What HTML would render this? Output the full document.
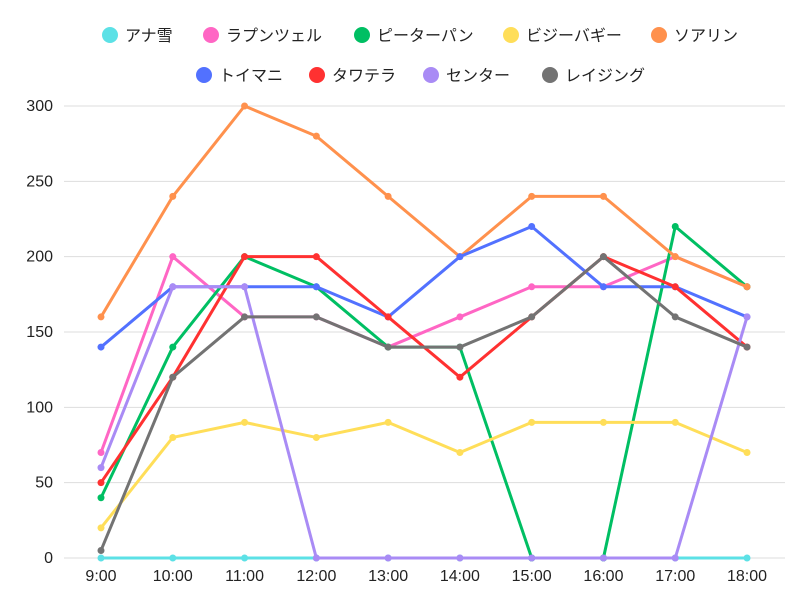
<!DOCTYPE html>
<html><head><meta charset="utf-8"><style>
html,body{margin:0;padding:0;background:#fff}
svg text{font-family:"Liberation Sans","Noto Sans CJK JP",sans-serif;fill:#222}
</style></head><body>
<svg id="c" width="800" height="600" xmlns="http://www.w3.org/2000/svg"></svg>
<script>
const s=document.getElementById('c');let h='';
const X=i=>101+i*71.78, Y=v=>558-v*452/300;
for(let v=0;v<=300;v+=50){h+=`<line x1="64" x2="785" y1="${Y(v)}" y2="${Y(v)}" stroke="#ddd" stroke-width="1"/>`;
h+=`<text x="53" y="${Y(v)+5}" font-size="16" text-anchor="end">${v}</text>`;}
for(let i=0;i<10;i++)h+=`<text x="${X(i)}" y="581" font-size="16" text-anchor="middle">${9+i}:00</text>`;
const d=[
['アナ雪','#5ce1e6',[0,0,0,0,0,0,0,0,0,0],110,35],
['ラプンツェル','#ff66c4',[70,200,160,160,140,160,180,180,200,180],211,35],
['ピーターパン','#00bf63',[40,140,200,180,140,140,0,0,220,180],362,35],
['ビジーバギー','#ffde59',[20,80,90,80,90,70,90,90,90,70],511,35],
['ソアリン','#ff914d',[160,240,300,280,240,200,240,240,200,180],659,35],
['トイマニ','#5271ff',[140,180,180,180,160,200,220,180,180,160],204,75],
['タワテラ','#ff3131',[50,120,200,200,160,120,160,200,180,140],317,75],
['センター','#a98bf5',[60,180,180,0,0,0,0,0,0,160],431,75],
['レイジング','#737373',[5,120,160,160,140,140,160,200,160,140],550,75]];
for(const [n,c,v,lx,ly] of d){
h+=`<polyline fill="none" stroke="${c}" stroke-width="3" stroke-linejoin="round" points="${v.map((a,i)=>X(i)+','+Y(a)).join(' ')}"/>`;
v.forEach((a,i)=>h+=`<circle cx="${X(i)}" cy="${Y(a)}" r="3.5" fill="${c}"/>`);
h+=`<circle cx="${lx}" cy="${ly}" r="8" fill="${c}"/><text x="${lx+15}" y="${ly+6}" font-size="16">${n}</text>`;}
s.innerHTML=h;
</script>
</body></html>
